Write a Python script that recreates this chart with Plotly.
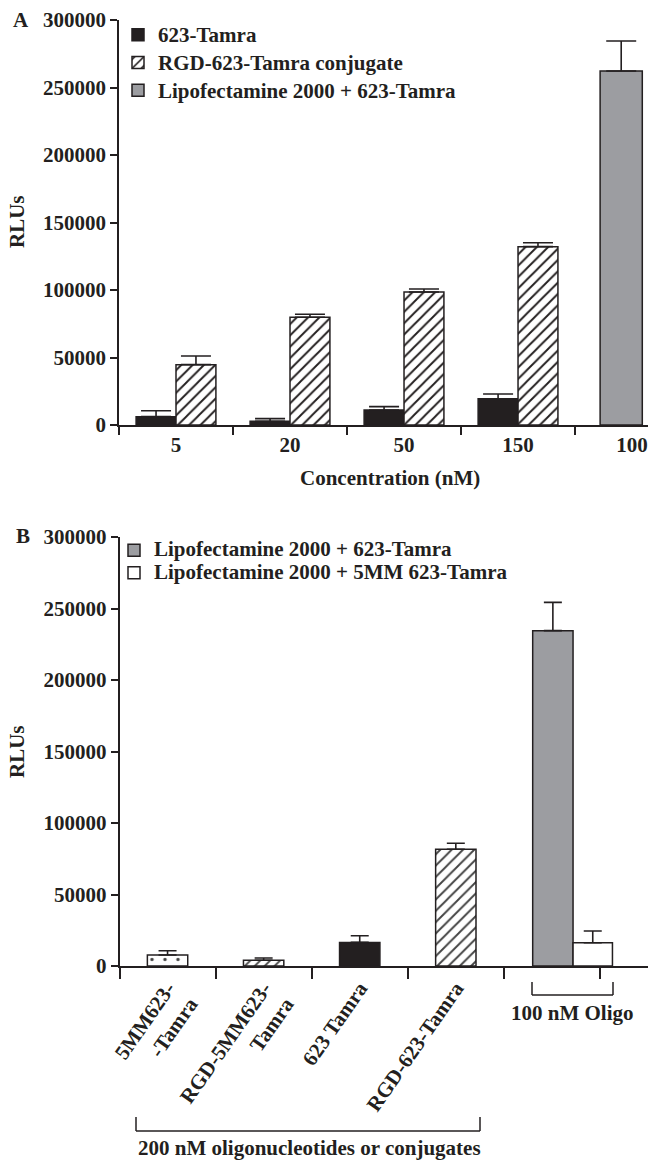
import plotly.graph_objects as go

# ---------------- data ----------------
# Panel A
a_categories = ["5", "20", "50", "150", "100"]
a_tamra = [6200, 2700, 11100, 19500, None]
a_tamra_err = [4400, 2000, 2500, 3500, 0]
a_rgd = [44700, 79800, 98500, 132100, None]
a_rgd_err = [6400, 2200, 2200, 2900, 0]
a_lipo = [None, None, None, None, 262200]
a_lipo_err = [0, 0, 0, 0, 22200]

# Panel B
b_categories = ["5MM623-<br>-Tamra", "RGD-5MM623-<br>Tamra", "623 Tamra", "RGD-623-Tamra", "100 nM Oligo"]
b_ticktext = ["5MM623-<br>-Tamra", "RGD-5MM623-<br>Tamra", "623 Tamra", "RGD-623-Tamra", ""]
b_single = [7700, 4000, 16500, 81600, None]
b_single_err = [3000, 1600, 4700, 4200, 0]
b_lipo = [None, None, None, None, 234500]
b_lipo_err = [0, 0, 0, 0, 19800]
b_lipo5mm = [None, None, None, None, 16300]
b_lipo5mm_err = [0, 0, 0, 0, 8200]

y_ticks = [0, 50000, 100000, 150000, 200000, 250000, 300000]

# ---------------- style ----------------
INK = "#231f20"
GRAY = "#9c9da1"
FONT = "Liberation Serif"
FS = 21
W, H = 648, 1160

def fx(px):
    return px / W

def fy(py):
    return 1 - py / H

def big(t):
    return '<span style="font-size:%dpx">%s</span>' % (FS, t)

fig = go.Figure()

def err(arr, cap):
    return dict(type="data", symmetric=False, color=INK, thickness=1.6, width=cap,
                array=arr, arrayminus=[0] * len(arr))

hatch = dict(shape="/", fgcolor=INK, bgcolor="white", size=8, solidity=0.24, fgopacity=1)

fig.add_trace(go.Bar(
    x=a_categories, y=a_tamra, name=big("623-Tamra"), xaxis="x", yaxis="y",
    offset=-0.35, width=0.35,
    marker=dict(color=INK, line=dict(color=INK, width=1.5)),
    error_y=err(a_tamra_err, 15), legend="legend",
))
fig.add_trace(go.Bar(
    x=a_categories, y=a_rgd, name=big("RGD-623-Tamra conjugate"), xaxis="x", yaxis="y",
    offset=0.0, width=0.35,
    marker=dict(color="white", line=dict(color=INK, width=1.5), pattern=hatch),
    error_y=err(a_rgd_err, 15), legend="legend",
))
fig.add_trace(go.Bar(
    x=a_categories, y=a_lipo, name=big("Lipofectamine 2000 + 623-Tamra"), xaxis="x", yaxis="y",
    offset=-0.28, width=0.37,
    marker=dict(color=GRAY, line=dict(color=INK, width=1.5)),
    error_y=err(a_lipo_err, 15), legend="legend",
))

fig.add_trace(go.Bar(
    x=b_categories, y=b_single, xaxis="x2", yaxis="y2", showlegend=False,
    offset=-0.21, width=0.42,
    marker=dict(color=["white", "white", INK, "white", "white"],
                line=dict(color=INK, width=1.5),
                pattern=dict(shape=[".", "/", "", "/", ""], fgcolor=INK, bgcolor="white",
                             fgopacity=1,
                             size=[13, 7, 8, 8, 8], solidity=[0.05, 0.26, 0.24, 0.24, 0.24])),
    error_y=err(b_single_err, 9),
))
fig.add_trace(go.Bar(
    x=b_categories, y=b_lipo, name=big("Lipofectamine 2000 + 623-Tamra"),
    xaxis="x2", yaxis="y2",
    offset=-0.2, width=0.42,
    marker=dict(color=GRAY, line=dict(color=INK, width=1.5)),
    error_y=err(b_lipo_err, 9), legend="legend2",
))
fig.add_trace(go.Bar(
    x=b_categories, y=b_lipo5mm, name=big("Lipofectamine 2000 + 5MM 623-Tamra"),
    xaxis="x2", yaxis="y2",
    offset=0.22, width=0.41,
    marker=dict(color="white", line=dict(color=INK, width=1.5)),
    error_y=err(b_lipo5mm_err, 9), legend="legend2",
))

tickfont = dict(family=FONT, size=FS, color=INK, weight="bold")

common_y = dict(
    tickmode="array", tickvals=y_ticks, tickformat="d", ticks="outside", ticklen=7,
    tickwidth=1.5, tickcolor=INK, showline=True, linecolor=INK, linewidth=1.5,
    showgrid=False, zeroline=False, tickfont=tickfont, automargin=False,
    range=[0, 300000], fixedrange=True,
)

fig.update_layout(
    width=W, height=H,
    margin=dict(l=0, r=0, t=0, b=0),
    paper_bgcolor="white", plot_bgcolor="white",
    barmode="overlay",
    showlegend=True,
    xaxis=dict(
        domain=[fx(119), 1], anchor="y", type="category",
        range=[-0.5, 4.14], tickson="boundaries", ticks="outside", ticklen=8,
        tickwidth=1.5, tickcolor=INK, showline=True, linecolor=INK, linewidth=1.5,
        showgrid=False, tickfont=tickfont, automargin=False,
    ),
    yaxis=dict(domain=[fy(425), fy(20)], anchor="x", **common_y),
    xaxis2=dict(
        domain=[fx(119.5), 1], anchor="y2", type="category",
        range=[-0.5, 5.0], tickson="boundaries", ticks="outside", ticklen=11,
        tickwidth=1.5, tickcolor=INK, showline=True, linecolor=INK, linewidth=1.5,
        showgrid=False, tickfont=tickfont, automargin=False,
        tickmode="array", tickvals=b_categories, ticktext=b_ticktext, tickangle=-55,
    ),
    yaxis2=dict(domain=[fy(966), fy(537)], anchor="x2", **common_y),
    legend=dict(
        x=fx(118), y=fy(16), xanchor="left", yanchor="top",
        font=dict(family=FONT, size=19, color=INK, weight="bold"),
        bgcolor="rgba(0,0,0,0)", traceorder="normal",
    ),
    legend2=dict(
        x=fx(114), y=fy(534), xanchor="left", yanchor="top",
        font=dict(family=FONT, size=15, color=INK, weight="bold"),
        bgcolor="rgba(0,0,0,0)", traceorder="normal",
    ),
)

ann_font = dict(family=FONT, size=FS, color=INK, weight="bold")

def ann(text, x, y, **kw):
    d = dict(text=text, x=fx(x), y=fy(y), xref="paper", yref="paper", showarrow=False,
             xanchor="center", yanchor="middle", font=ann_font)
    d.update(kw)
    return d

annotations = [
    ann("A", 21, 20),
    ann("B", 23, 536),
    ann("RLUs", 17, 222, textangle=-90),
    ann("RLUs", 17, 752, textangle=-90),
    ann("Concentration (nM)", 390, 478),
    ann("100 nM Oligo", 572, 1013),
    ann("200 nM oligonucleotides or conjugates", 309, 1148),
]
fig.update_layout(annotations=annotations)

line = dict(color=INK, width=1.5)
def bracket(x0, x1, ytop, ybot):
    return [
        dict(type="line", xref="paper", yref="paper", x0=fx(x0), x1=fx(x0), y0=fy(ytop), y1=fy(ybot), line=line),
        dict(type="line", xref="paper", yref="paper", x0=fx(x1), x1=fx(x1), y0=fy(ytop), y1=fy(ybot), line=line),
        dict(type="line", xref="paper", yref="paper", x0=fx(x0), x1=fx(x1), y0=fy(ybot), y1=fy(ybot), line=line),
    ]

shapes = bracket(532, 613, 982, 995) + bracket(136, 480, 1117, 1131)
fig.update_layout(shapes=shapes)

fig.write_html("out.html")
